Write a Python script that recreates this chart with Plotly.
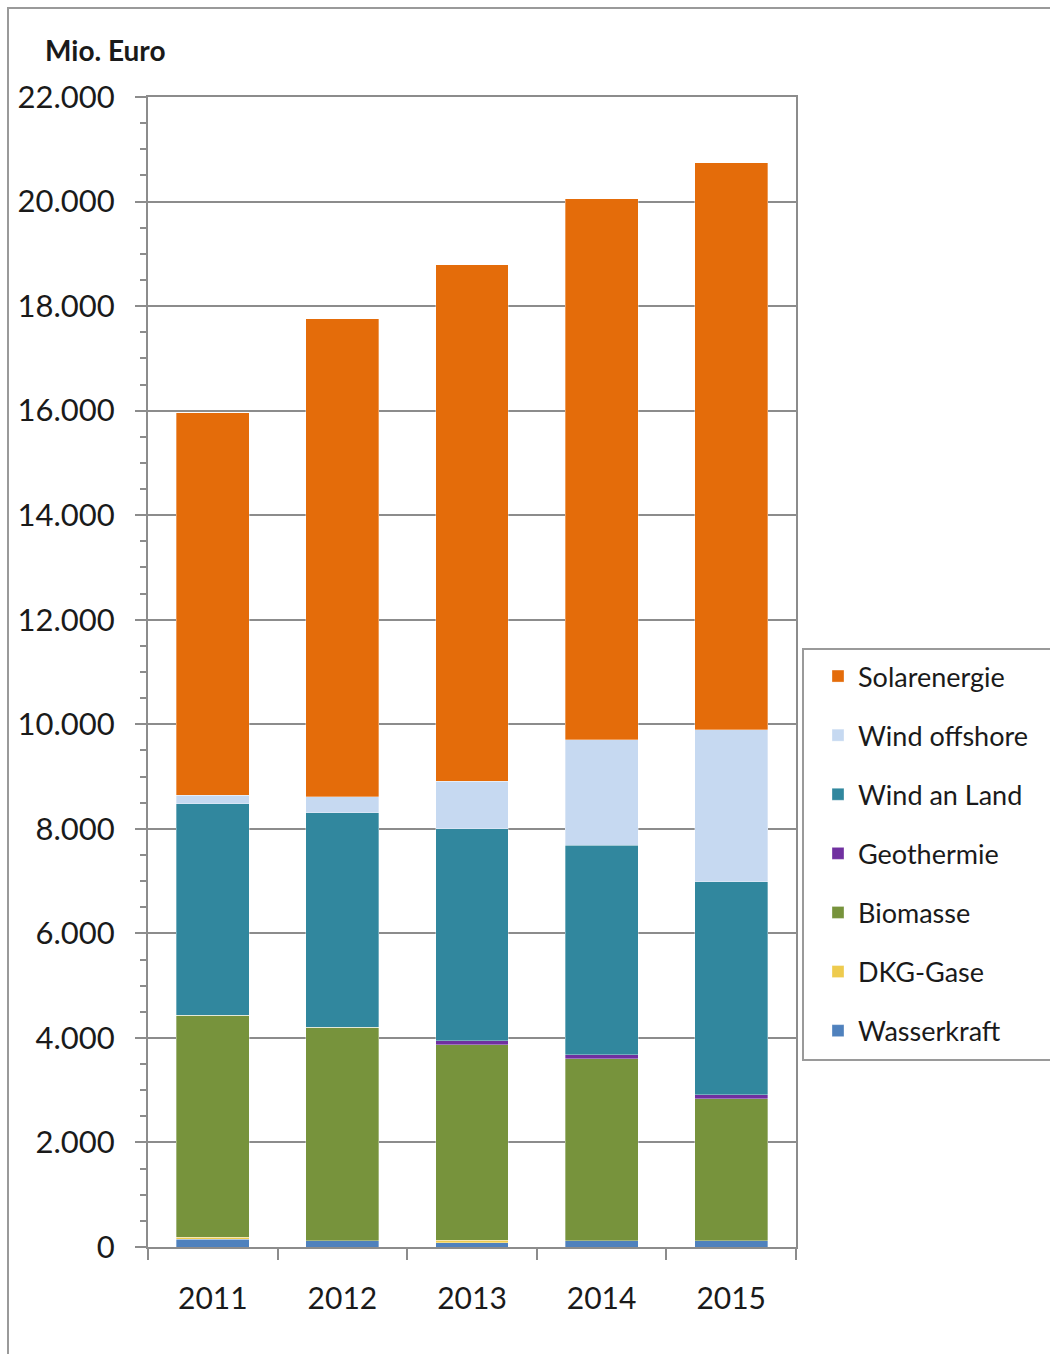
import plotly.graph_objects as go

# Investitionen in erneuerbare Energien, Mio. Euro
years = ["2011", "2012", "2013", "2014", "2015"]

wasserkraft = [150, 115, 85, 115, 115]
dkg_gase = [40, 0, 45, 0, 0]
biomasse = [4243, 4088, 3742, 3488, 2723]
geothermie = [0, 0, 76, 77, 77]
wind_an_land = [4045, 4109, 4058, 4006, 4071]
wind_offshore = [165, 300, 905, 2017, 2914]
solarenergie = [7317, 9148, 9879, 10347, 10840]

series = [
    ("Wasserkraft", wasserkraft, "#4F81BD"),
    ("DKG-Gase", dkg_gase, "#EECB4E"),
    ("Biomasse", biomasse, "#77933C"),
    ("Geothermie", geothermie, "#7030A0"),
    ("Wind an Land", wind_an_land, "#31879E"),
    ("Wind offshore", wind_offshore, "#C6D9F1"),
    ("Solarenergie", solarenergie, "#E46C0A"),
]

W, H = 1050, 1354
L, R, T, B = 148, 796, 97, 1247
grey = "#8C8C8C"
font_family = "Lato, 'Open Sans', sans-serif"

fig = go.Figure()
for i, (name, vals, color) in enumerate(series):
    fig.add_trace(go.Bar(
        x=years, y=vals, name=name, legendgroup=name,
        legendrank=1000 - i,  # top of the stack first in the legend
        marker=dict(color=color, line=dict(width=0.6, color="rgba(255,255,255,0.55)")),
    ))


def px_x(p):
    return (p - L) / (R - L)


def px_y(p):
    return (B - p) / (B - T)


fig.update_layout(
    width=W, height=H,
    barmode="stack",
    bargap=0.437,
    separators=",.",
    paper_bgcolor="white",
    plot_bgcolor="white",
    margin=dict(l=L, r=W - R, t=T, b=H - B, pad=0),
    font=dict(family=font_family, color="#1a1a1a"),
    showlegend=True,
    legend=dict(
        x=px_x(818), y=px_y(652), xanchor="left", yanchor="top",
        traceorder="grouped",
        tracegroupgap=21,
        font=dict(size=27, family=font_family, color="#1a1a1a"),
        bgcolor="rgba(0,0,0,0)",
        borderwidth=0,
        itemclick=False,
    ),
    xaxis=dict(
        type="category",
        showline=True, linecolor=grey, linewidth=2, mirror=True,
        ticks="outside", tickson="boundaries", ticklen=11, tickwidth=2, tickcolor=grey,
        ticklabelstandoff=24,
        tickfont=dict(size=30, family=font_family, color="#1a1a1a"),
        showgrid=False,
    ),
    yaxis=dict(
        range=[0, 22000],
        dtick=2000,
        tickformat=",d",
        showline=True, linecolor=grey, linewidth=2, mirror=True,
        ticks="outside", ticklen=11, tickwidth=2, tickcolor=grey,
        ticklabelstandoff=14,
        tickfont=dict(size=31, family=font_family, color="#1a1a1a"),
        showgrid=True, gridcolor=grey, gridwidth=2,
        zeroline=False,
        minor=dict(dtick=500, ticks="outside", ticklen=6, tickwidth=1.5,
                   tickcolor=grey, showgrid=False),
    ),
    shapes=[
        # outer chart frame
        dict(type="rect", xref="paper", yref="paper",
             x0=px_x(8), x1=px_x(1070), y0=px_y(8), y1=px_y(1380),
             line=dict(color="#9A9A9A", width=2), fillcolor="rgba(0,0,0,0)", layer="below"),
        # legend frame
        dict(type="rect", xref="paper", yref="paper",
             x0=px_x(803), x1=px_x(1070), y0=px_y(649), y1=px_y(1060),
             line=dict(color="#9A9A9A", width=2), fillcolor="rgba(0,0,0,0)"),
    ],
    annotations=[
        dict(text="<b>Mio. Euro</b>", xref="paper", yref="paper",
             x=px_x(43), y=px_y(50), xanchor="left", yanchor="middle",
             showarrow=False, font=dict(size=28, family=font_family, color="#1a1a1a")),
    ],
)

fig.write_html("out.html")
